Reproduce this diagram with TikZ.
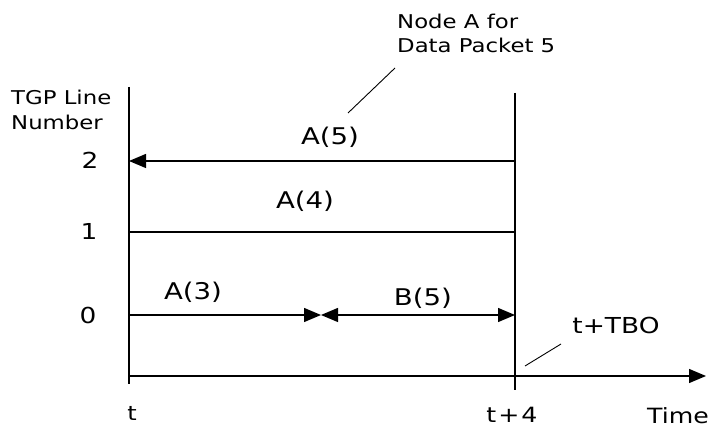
\documentclass[tikz,border=0pt]{standalone}
\usepackage{fontspec}
\setmainfont[FakeStretch=1.2]{DejaVu Sans}
\usetikzlibrary{arrows.meta}
\tikzset{tri/.tip={Triangle[length=17pt,width=14pt]}}
\begin{document}
\begin{tikzpicture}[x=1pt,y=-1pt,
  ln/.style={line width=1.3pt},
  lbl/.style={inner sep=0pt,font=\fontsize{22}{24}\selectfont},
  pkt/.style={inner sep=0pt,font=\fontsize{23}{26}\selectfont},
  sml/.style={inner sep=0pt,font=\fontsize{19}{25}\selectfont,align=left,anchor=west},
  lead/.style={line width=0.9pt}]
\useasboundingbox (0,0) rectangle (710,438);
% coordinates
\coordinate (L2) at (129,161);
\coordinate (L1) at (129,232);
\coordinate (L0) at (129,315);
\coordinate (Lb) at (129,376);
\coordinate (Ltop) at (129,87);
\coordinate (Lbot) at (129,384);
\coordinate (R2) at (515,161);
\coordinate (R1) at (515,232);
\coordinate (R0) at (515,315);
\coordinate (Rb) at (515,376);
\coordinate (Rtop) at (515,93);
\coordinate (Rbot) at (515,390);
\coordinate (M0) at (321,315);
\coordinate (Aend) at (706,376);
% axes and verticals
\draw[ln] (Ltop) -- (Lbot);
\draw[ln] (Rtop) -- (Rbot);
\draw[ln,-{tri}] (Lb) -- (Aend);
% rows
\draw[ln,-{tri}] (R2) -- (L2);
\draw[ln] (L1) -- (R1);
\draw[ln,-{tri}] (L0) -- (M0);
\draw[ln,{tri}-{tri}] (M0) -- (R0);
% labels
\node[sml] (tgp) at (11,110) {TGP Line\\Number};
\node[lbl] (n2) at (90,160) {2};
\node[lbl] (n1) at (89,231) {1};
\node[lbl] (n0) at (88,315) {0};
\node[pkt] (a5) at (330,137) {A(5)};
\node[pkt] (a4) at (305,201) {A(4)};
\node[pkt] (a3) at (193,292) {A(3)};
\node[pkt] (b5) at (423,298) {B(5)};
\node[lbl] (ttbo) at (616,325) {t+TBO};
\node[lbl,font=\fontsize{20}{22}\selectfont] (t) at (132,413) {t};
\node[lbl,font=\fontsize{21}{22}\selectfont] (t4) at (512,415) {t\kern2pt+\kern2pt4};
\node[lbl,font=\fontsize{21}{24}\selectfont] (time) at (678,416) {Time};
\node[sml,font=\fontsize{19}{24}\selectfont] (nodeA) at (397,33) {Node A for\\Data Packet 5};
% leader lines
\coordinate (p1) at (348,113);
\coordinate (p2) at (395,68);
\coordinate (q1) at (525,366);
\coordinate (q2) at (561,344);
\draw[lead] (p1) -- (p2);
\draw[lead] (q1) -- (q2);
\end{tikzpicture}
\end{document}
